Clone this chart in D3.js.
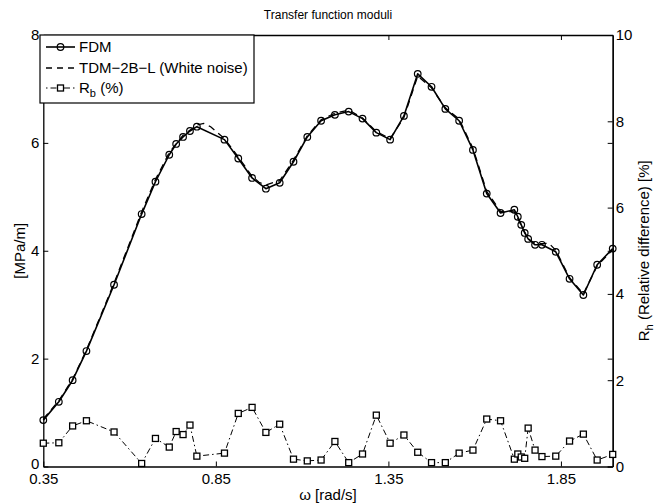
<!DOCTYPE html>
<html>
<head>
<meta charset="utf-8">
<script src="https://cdn.jsdelivr.net/npm/d3@7"></script>
<style>
  body { margin: 0; background: #fff; }
  text { font-family: "Liberation Sans", Arial, Helvetica, sans-serif; fill: #000; }
</style>
</head>
<body>
<svg id="chart"></svg>
<script>
// omega grid [rad/s], shared by FDM and R_b
var omega = [0.35, 0.395, 0.435, 0.475, 0.555, 0.635, 0.675, 0.715, 0.735, 0.755, 0.775, 0.795,
  0.875, 0.915, 0.955, 0.995, 1.035, 1.075, 1.115, 1.155, 1.195, 1.235, 1.275, 1.315, 1.355,
  1.395, 1.435, 1.475, 1.515, 1.555, 1.595, 1.635, 1.675, 1.715, 1.725, 1.735, 1.745, 1.755,
  1.775, 1.795, 1.835, 1.875, 1.915, 1.955, 2.0];
// FDM modulus [MPa/m]
var fdm = [0.86, 1.20, 1.60, 2.14, 3.37, 4.68, 5.28, 5.78, 5.98, 6.11, 6.22, 6.30,
  6.06, 5.71, 5.35, 5.15, 5.26, 5.65, 6.11, 6.41, 6.52, 6.58, 6.45, 6.19, 6.06,
  6.50, 7.28, 7.04, 6.63, 6.41, 5.87, 5.06, 4.70, 4.76, 4.63, 4.48, 4.33, 4.22,
  4.11, 4.11, 3.98, 3.48, 3.18, 3.74, 4.04];
// TDM-2B-L (white noise) modulus, own grid
var tdmOmega = [0.35, 0.395, 0.435, 0.475, 0.555, 0.635, 0.675, 0.715, 0.755, 0.795, 0.815, 0.835,
  0.875, 0.915, 0.955, 0.975, 0.995, 1.035, 1.075, 1.115, 1.155, 1.195, 1.235, 1.275, 1.315, 1.355,
  1.395, 1.435, 1.475, 1.515, 1.555, 1.595, 1.635, 1.675, 1.715, 1.755, 1.775, 1.795, 1.815,
  1.835, 1.875, 1.915, 1.955, 2.0];
var tdm = [0.88, 1.22, 1.62, 2.16, 3.40, 4.72, 5.32, 5.82, 6.14, 6.33, 6.36, 6.30,
  6.08, 5.74, 5.38, 5.27, 5.22, 5.30, 5.68, 6.13, 6.43, 6.55, 6.61, 6.46, 6.21, 6.08,
  6.47, 7.24, 7.02, 6.65, 6.44, 5.90, 5.10, 4.73, 4.72, 4.22, 4.14, 4.13, 4.14,
  4.01, 3.50, 3.20, 3.72, 4.02];
// R_b relative difference [%]
var rb = [0.54, 0.55, 0.94, 1.06, 0.80, 0.07, 0.65, 0.45, 0.81, 0.74, 0.96, 0.24,
  0.31, 1.23, 1.37, 0.79, 0.98, 0.17, 0.13, 0.15, 0.58, 0.09, 0.29, 1.19, 0.54,
  0.73, 0.33, 0.09, 0.09, 0.31, 0.38, 1.10, 1.06, 0.17, 0.29, 0.22, 0.19, 0.89,
  0.38, 0.23, 0.24, 0.59, 0.75, 0.15, 0.28];

var xTicks = [0.35, 0.85, 1.35, 1.85];
var yLeftTicks = [0, 2, 4, 6, 8];
var yRightTicks = [0, 2, 4, 6, 8, 10];

var chart_width = 654;
var chart_height = 504;
var margin = { top: 35, right: 41.3, bottom: 37.5, left: 43.3 };
var width = chart_width - margin.left - margin.right;
var height = chart_height - margin.top - margin.bottom;

var svg = d3.select('#chart')
  .attr('width', chart_width)
  .attr('height', chart_height);

var g = svg.append('g')
  .attr('transform', 'translate(' + margin.left + ',' + margin.top + ')');

var x_scale = d3.scaleLinear().domain([0.35, 2.0]).range([0, width]);
var yL = d3.scaleLinear().domain([0, 8]).range([height, 0]);
var yR = d3.scaleLinear().domain([0, 10]).range([height, 0]);

var tick = 5;

// axes (ticks point inward, like matlab)
function styleAxis(sel) {
  sel.selectAll('path').attr('stroke', '#000').attr('stroke-width', 1.3);
  sel.selectAll('line').attr('stroke', '#000').attr('stroke-width', 1);
  sel.selectAll('text').style('font-size', '15px').attr('fill', '#000');
  sel.attr('font-family', null).attr('font-size', null);
}

g.append('g')
  .attr('transform', 'translate(0,' + height + ')')
  .call(d3.axisBottom(x_scale).tickValues(xTicks).tickFormat(d3.format('.2f'))
    .tickSizeInner(-tick).tickSizeOuter(0).tickPadding(7))
  .call(styleAxis);

g.append('g')
  .call(d3.axisTop(x_scale).tickValues(xTicks).tickFormat('')
    .tickSizeInner(-tick).tickSizeOuter(0))
  .call(styleAxis);

var leftAxis = g.append('g')
  .call(d3.axisLeft(yL).tickValues(yLeftTicks).tickFormat(d3.format('d'))
    .tickSizeInner(-tick).tickSizeOuter(0).tickPadding(4))
  .call(styleAxis);
// lift the corner "0" a little so it sits just above 0.35
leftAxis.selectAll('.tick text').filter(function(d) { return d === 0; })
  .attr('dy', '0.12em');

// left axis ticks mirrored on the right side (box on)
g.append('g')
  .attr('transform', 'translate(' + width + ',0)')
  .call(d3.axisRight(yL).tickValues(yLeftTicks).tickFormat('')
    .tickSizeInner(-tick).tickSizeOuter(0))
  .call(styleAxis);

g.append('g')
  .attr('transform', 'translate(' + width + ',0)')
  .call(d3.axisRight(yR).tickValues(yRightTicks).tickFormat(d3.format('d'))
    .tickSizeInner(-tick).tickSizeOuter(0).tickPadding(3))
  .call(styleAxis);

// lines
var fdmData = omega.map(function(d, i) { return { x: d, y: fdm[i] }; });
var tdmData = tdmOmega.map(function(d, i) { return { x: d, y: tdm[i] }; });
var rbData = omega.map(function(d, i) { return { x: d, y: rb[i] }; });

var lineL = d3.line()
  .x(function(d) { return x_scale(d.x); })
  .y(function(d) { return yL(d.y); });
var lineR = d3.line()
  .x(function(d) { return x_scale(d.x); })
  .y(function(d) { return yR(d.y); });

g.append('path')
  .datum(rbData)
  .attr('fill', 'none')
  .attr('stroke', '#000')
  .attr('stroke-width', 1)
  .attr('stroke-dasharray', '6,3,1.5,3')
  .attr('d', lineR);

g.append('path')
  .datum(tdmData)
  .attr('fill', 'none')
  .attr('stroke', '#000')
  .attr('stroke-width', 1.3)
  .attr('stroke-dasharray', '7,5')
  .attr('d', lineL);

g.append('path')
  .datum(fdmData)
  .attr('fill', 'none')
  .attr('stroke', '#000')
  .attr('stroke-width', 1.6)
  .attr('stroke-linejoin', 'round')
  .attr('d', lineL);

g.append('g')
  .selectAll('circle')
  .data(fdmData)
  .enter()
  .append('circle')
  .attr('cx', function(d) { return x_scale(d.x); })
  .attr('cy', function(d) { return yL(d.y); })
  .attr('r', 3.3)
  .attr('fill', 'none')
  .attr('stroke', '#000')
  .attr('stroke-width', 1.2);

var sq = 6;
g.append('g')
  .selectAll('rect')
  .data(rbData)
  .enter()
  .append('rect')
  .attr('x', function(d) { return x_scale(d.x) - sq / 2; })
  .attr('y', function(d) { return yR(d.y) - sq / 2; })
  .attr('width', sq)
  .attr('height', sq)
  .attr('fill', '#fff')
  .attr('stroke', '#000')
  .attr('stroke-width', 1.3);

// legend
var lg = svg.append('g').attr('transform', 'translate(40,35)');
lg.append('rect')
  .attr('width', 214).attr('height', 68)
  .attr('fill', '#fff').attr('stroke', '#000').attr('stroke-width', 1.2);

lg.append('line').attr('x1', 6).attr('x2', 35).attr('y1', 12).attr('y2', 12)
  .attr('stroke', '#000').attr('stroke-width', 1.6);
lg.append('circle').attr('cx', 20.5).attr('cy', 12).attr('r', 3.3)
  .attr('fill', 'none').attr('stroke', '#000').attr('stroke-width', 1.2);
lg.append('text').attr('x', 39).attr('y', 17).style('font-size', '15px').text('FDM');

lg.append('line').attr('x1', 6).attr('x2', 35).attr('y1', 33).attr('y2', 33)
  .attr('stroke', '#000').attr('stroke-width', 1.3).attr('stroke-dasharray', '6,5');
lg.append('text').attr('x', 39).attr('y', 38).style('font-size', '15px').text('TDM\u22122B\u2212L (White noise)');

lg.append('line').attr('x1', 6).attr('x2', 35).attr('y1', 53).attr('y2', 53)
  .attr('stroke', '#000').attr('stroke-width', 1).attr('stroke-dasharray', '1.5,3,6,3');
lg.append('rect').attr('x', 17.5).attr('y', 50).attr('width', sq).attr('height', sq)
  .attr('fill', '#fff').attr('stroke', '#000').attr('stroke-width', 1.3);
var rbText = lg.append('text').attr('x', 39).attr('y', 58).style('font-size', '15px');
rbText.append('tspan').text('R');
rbText.append('tspan').attr('dy', 4).style('font-size', '11px').text('b');
rbText.append('tspan').attr('dy', -4).text(' (%)');

// titles
svg.append('text')
  .attr('x', margin.left + width / 2)
  .attr('y', 19)
  .attr('text-anchor', 'middle')
  .style('font-size', '12px')
  .text('Transfer function moduli');

svg.append('text')
  .attr('x', margin.left + width / 2)
  .attr('y', 500)
  .attr('text-anchor', 'middle')
  .style('font-size', '15px')
  .text('\u03c9 [rad/s]');

svg.append('text')
  .attr('transform', 'translate(25,' + (margin.top + height / 2) + ') rotate(-90)')
  .attr('text-anchor', 'middle')
  .style('font-size', '15px')
  .text('[MPa/m]');

var rLabel = svg.append('text')
  .attr('transform', 'translate(649,' + (margin.top + height / 2) + ') rotate(-90)')
  .attr('text-anchor', 'middle')
  .style('font-size', '15px');
rLabel.append('tspan').text('R');
rLabel.append('tspan').attr('dy', 4).style('font-size', '11px').text('h');
rLabel.append('tspan').attr('dy', -4).text(' (Relative difference) [%]');
</script>
</body>
</html>
